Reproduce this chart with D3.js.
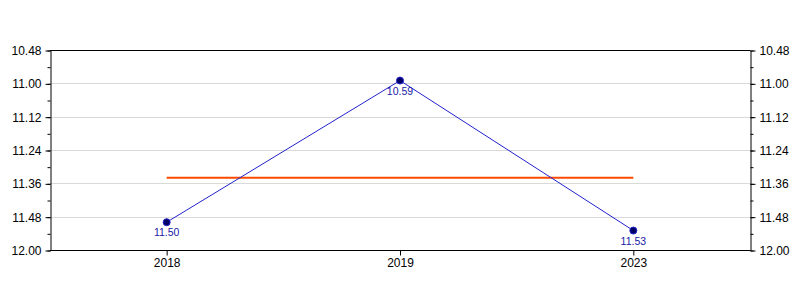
<!DOCTYPE html>
<html><head><meta charset="utf-8">
<script src="https://cdn.jsdelivr.net/npm/d3@7"></script>
<style>body{margin:0;background:#fff}text{font-family:"Liberation Sans",Arial,sans-serif}</style>
</head><body><svg id="c" width="800" height="300"></svg>
<script>
const categories = ["2018", "2019", "2023"];
// values in minutes.seconds notation (m.ss)
const values = [11.50, 10.59, 11.53];
const yTickLabels = ["10.48", "11.00", "11.12", "11.24", "11.36", "11.48", "12.00"];

const toMin = v => { v = +v; const m = Math.floor(v + 1e-9); return m + Math.round((v - m) * 100) / 60; };
const fmtMS = t => { let m = Math.floor(t + 1e-9); let s = Math.round((t - m) * 60); if (s === 60) { m++; s = 0; } return m + "." + String(s).padStart(2, "0"); };

const mins = values.map(toMin);
const yTicks = yTickLabels.map(toMin);
const mean = d3.mean(mins);

const L = 50, R = 750, T = 50, B = 250;
const svg = d3.select("#c");
const x = d3.scaleBand().domain(categories).range([L, R]);
const y = d3.scaleLinear().domain([yTicks[0], yTicks[yTicks.length - 1]]).range([T, B]);
const cx = d => x(d) + x.bandwidth() / 2;

// gridlines
svg.append("g").selectAll("line").data(yTicks.slice(1, -1)).join("line")
  .attr("x1", L).attr("x2", R).attr("y1", d => Math.round(y(d)) + 0.5).attr("y2", d => Math.round(y(d)) + 0.5)
  .attr("stroke", "#d9d9d9").attr("stroke-width", 1);

// frame top
svg.append("line").attr("x1", L).attr("x2", R + 0.5).attr("y1", T + 0.5).attr("y2", T + 0.5).attr("stroke", "#000");

const minor = d3.range(0, yTicks.length * 2 - 1).map(i => yTicks[0] + (yTicks[yTicks.length-1] - yTicks[0]) * i / ((yTicks.length - 1) * 2));

function yAxis(axisFn, xpos) {
  const g = svg.append("g").attr("transform", `translate(${xpos},0.5)`);
  g.call(axisFn(y).tickValues(minor).tickSize(3).tickFormat(""));
  g.select(".domain").remove();
  const g2 = svg.append("g").attr("transform", `translate(${xpos},0.5)`);
  g2.call(axisFn(y).tickValues(yTicks).tickSize(5).tickSizeOuter(0).tickPadding(4).tickFormat(fmtMS));
  g2.selectAll("text").attr("font-size", 12).attr("fill", "#000").attr("font-family", '"Liberation Sans",Arial,sans-serif');
  g2.select(".domain").attr("stroke", "#000");
}
yAxis(d3.axisLeft, L + 0.5);
yAxis(d3.axisRight, R + 0.5);

const gx = svg.append("g").attr("transform", `translate(0.5,${B + 0.5})`)
  .call(d3.axisBottom(x).tickSize(5).tickSizeOuter(0).tickPadding(3));
gx.selectAll("text").attr("font-size", 12).attr("fill", "#000").attr("font-family", '"Liberation Sans",Arial,sans-serif');
gx.select(".domain").attr("d", `M${L - 0.5},0H${R}`);

// mean line
svg.append("line").attr("x1", cx(categories[0])).attr("x2", cx(categories[categories.length - 1]))
  .attr("y1", y(mean)).attr("y2", y(mean)).attr("stroke", "#ff4a00").attr("stroke-width", 2);

// series line
svg.append("path").datum(mins)
  .attr("d", d3.line().x((d, i) => cx(categories[i])).y(d => y(d)))
  .attr("fill", "none").attr("stroke", "#2222cc").attr("stroke-width", 1);

svg.append("g").selectAll("circle").data(mins).join("circle")
  .attr("cx", (d, i) => cx(categories[i])).attr("cy", d => y(d)).attr("r", 3.5)
  .attr("fill", "#000066").attr("stroke", "#2222cc").attr("stroke-width", 1);

svg.append("g").selectAll("text").data(values).join("text")
  .attr("x", (d, i) => cx(categories[i])).attr("y", (d, i) => y(mins[i]) + 14)
  .attr("text-anchor", "middle").attr("font-size", 10.5).attr("fill", "#1a1aa6")
  .text(d => d.toFixed(2));
</script></body></html>
